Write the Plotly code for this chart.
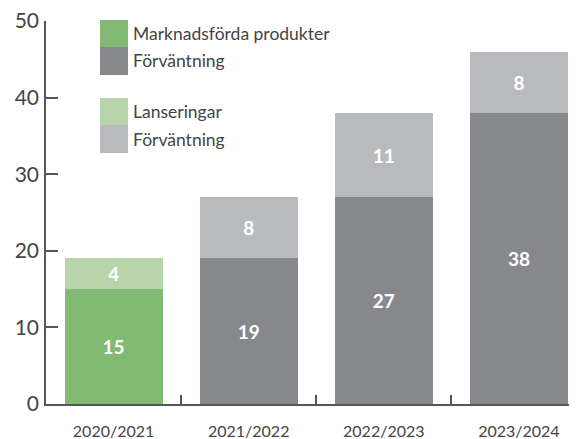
import plotly.graph_objects as go

categories = ["2020/2021", "2021/2022", "2022/2023", "2023/2024"]
base_values = [15, 19, 27, 38]
top_values = [4, 8, 11, 8]
y_ticks = [0, 10, 20, 30, 40, 50]

GREEN = "#82b973"
LGREEN = "#b8d4ab"
DGRAY = "#87888c"
LGRAY = "#b9babe"

base_colors = [GREEN, DGRAY, DGRAY, DGRAY]
top_colors = [LGREEN, LGRAY, LGRAY, LGRAY]

fig = go.Figure()
fig.add_trace(go.Bar(
    x=categories, y=base_values, marker=dict(color=base_colors, line=dict(width=0)),
    text=[str(v) for v in base_values], textposition="inside", insidetextanchor="middle",
    textfont=dict(family="Lato", size=19, color="white", weight="bold"),
    showlegend=False, hoverinfo="skip"))
fig.add_trace(go.Bar(
    x=categories, y=top_values, marker=dict(color=top_colors, line=dict(width=0)),
    text=[str(v) for v in top_values], textposition="inside", insidetextanchor="middle",
    textfont=dict(family="Lato", size=19, color="white", weight="bold"),
    showlegend=False, hoverinfo="skip"))

# page body has an 8px default margin, so the figure is sized/offset to compensate
fig.update_layout(
    width=569, height=431,
    margin=dict(l=38, r=0, t=13, b=35),
    barmode="stack", bargap=0.274,
    plot_bgcolor="white", paper_bgcolor="white",
    font=dict(family="Lato", color="#444444"),
    uniformtext=dict(mode=False),
)
fig.update_xaxes(
    range=[-0.5, 3.43], showline=True, linecolor="#555555", linewidth=1.5,
    ticks="inside", tickson="boundaries", ticklen=9, tickcolor="#555555", tickwidth=1.5,
    tickfont=dict(size=16, color="#444444"), ticklabelstandoff=12, showgrid=False,
    zeroline=False, automargin=False, ticklabeloverflow="allow")
fig.update_yaxes(
    range=[0, 50], tickvals=y_ticks, showline=True, linecolor="#555555", linewidth=1.5,
    ticks="inside", ticklen=12, tickcolor="#555555", tickwidth=1.5,
    tickfont=dict(size=21, color="#444444"), ticklabelstandoff=1, showgrid=False,
    zeroline=False, automargin=False, ticklabeloverflow="allow")

# custom legend
legend_items = [
    (GREEN, "Marknadsförda produkter", 20, 47),
    (DGRAY, "Förväntning", 47, 75),
    (LGREEN, "Lanseringar", 98, 125),
    (LGRAY, "Förväntning", 125, 153),
]
for color, label, y0, y1 in legend_items:
    fig.add_shape(type="rect", xref="paper", yref="paper",
                  x0=(100 - 46) / 531, x1=(128 - 46) / 531,
                  y0=(404 - y1) / 383, y1=(404 - y0) / 383,
                  fillcolor=color, line=dict(width=0), layer="above")
    fig.add_annotation(xref="paper", yref="paper", x=(131 - 46) / 531,
                       y=(404 - (y0 + y1) / 2) / 383, text=label, showarrow=False,
                       xanchor="left", yanchor="middle",
                       font=dict(family="Lato", size=17.5, color="#444444"))

fig.write_html("out.html")
